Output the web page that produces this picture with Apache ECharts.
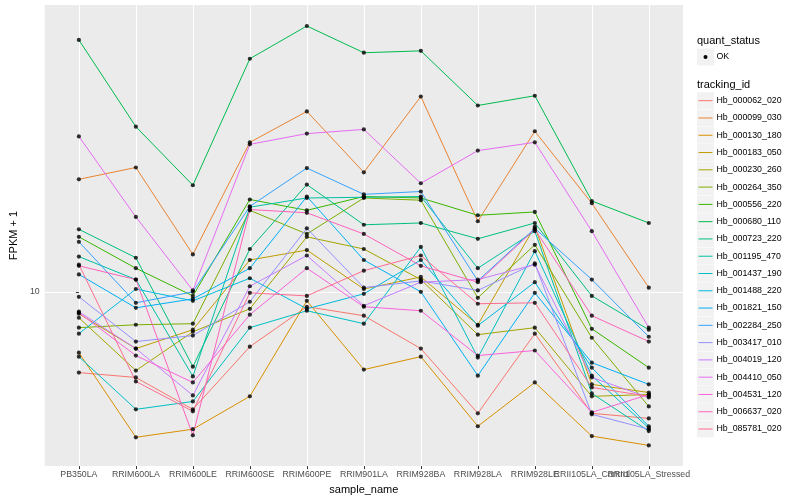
<!DOCTYPE html>
<html><head><meta charset="utf-8">
<script src="https://cdn.jsdelivr.net/npm/echarts@6/dist/echarts.min.js"></script>
<style>html,body{margin:0;padding:0;background:#fff}#c{width:800px;height:500px}</style>
</head><body><div id="c"></div>
<script>
const categories = ['PB350LA','RRIM600LA','RRIM600LE','RRIM600SE','RRIM600PE','RRIM901LA','RRIM928BA','RRIM928LA','RRIM928LE','RRII105LA_Control','RRII105LA_Stressed'];
const trackingIds = ['Hb_000062_020','Hb_000099_030','Hb_000130_180','Hb_000183_050','Hb_000230_260','Hb_000264_350','Hb_000556_220','Hb_000680_110','Hb_000723_220','Hb_001195_470','Hb_001437_190','Hb_001488_220','Hb_001821_150','Hb_002284_250','Hb_003417_010','Hb_004019_120','Hb_004410_050','Hb_004531_120','Hb_006637_020','Hb_085781_020'];
const colors = ['#F8766D','#EA8331','#D89000','#C09B00','#A3A500','#7CAE00','#39B600','#00BB4E','#00BF7D','#00C1A3','#00BFC4','#00BAE0','#00B0F6','#35A2FF','#9590FF','#C77CFF','#E76BF3','#FA62DB','#FF62BC','#FF6C91'];
const yTicks = [10];

const hb000062_020 = [5.68, 5.49, 4.39, 6.81, 9.01, 8.46, 6.72, 4.27, 7.46, 4.27, 4.12];
const hb000099_030 = [22.0, 23.9, 13.0, 28.5, 35.4, 23.1, 39.3, 16.4, 30.8, 18.6, 10.3];
const hb000130_180 = [6.53, 3.61, 3.82, 4.81, 9.39, 5.80, 6.35, 3.90, 5.30, 3.64, 3.41];
const hb000183_050 = [8.58, 6.72, 7.67, 12.5, 13.4, 10.2, 11.1, 7.94, 15.8, 5.23, 4.94];
const hb000230_260 = [8.34, 5.76, 7.56, 8.88, 14.7, 13.5, 10.9, 7.41, 7.78, 4.81, 4.87];
const hb000264_350 = [7.78, 7.94, 8.00, 17.7, 15.0, 19.3, 19.0, 9.59, 13.9, 7.25, 4.48];
const hb000556_220 = [14.7, 11.8, 9.72, 19.1, 17.7, 19.5, 19.3, 17.1, 17.5, 7.72, 5.88];
const hb000680_110 = [58.4, 31.8, 21.1, 51.2, 64.4, 53.4, 54.1, 36.9, 39.5, 18.9, 16.2];
const hb000723_220 = [15.5, 12.7, 5.92, 13.5, 21.2, 16.0, 16.2, 14.5, 16.2, 9.72, 7.67];
const hb001195_470 = [12.8, 10.9, 5.53, 18.1, 19.3, 19.4, 19.5, 11.8, 15.3, 4.91, 3.77];
const hb001437_190 = [6.35, 4.39, 4.64, 7.78, 8.76, 8.00, 13.7, 6.31, 13.3, 5.56, 3.85];
const hb001488_220 = [7.46, 10.2, 9.39, 11.0, 8.88, 9.86, 12.5, 7.89, 10.7, 5.88, 3.90];
const hb001821_150 = [11.3, 8.94, 9.52, 11.8, 19.5, 12.5, 10.0, 5.56, 9.93, 6.09, 5.23];
const hb002284_250 = [14.2, 9.26, 10.0, 18.2, 23.8, 19.8, 20.2, 10.8, 15.6, 10.9, 7.30];
const hb003417_010 = [9.66, 7.06, 7.36, 9.33, 15.6, 10.3, 10.8, 10.1, 12.2, 4.24, 3.82];
const hb004019_120 = [8.70, 6.72, 4.84, 10.4, 12.9, 9.07, 10.7, 10.9, 12.1, 5.49, 4.77];
const hb004410_050 = [29.7, 16.9, 10.1, 28.1, 30.3, 31.2, 21.4, 26.9, 28.5, 15.3, 7.78];
const hb004531_120 = [8.64, 6.40, 5.30, 8.52, 11.8, 9.01, 8.76, 6.40, 6.63, 4.30, 4.87];
const hb006637_020 = [12.0, 10.9, 3.66, 17.8, 17.4, 15.0, 12.0, 10.7, 15.5, 8.46, 7.06];
const hb085781_020 = [12.1, 5.34, 4.33, 9.93, 9.72, 11.6, 12.9, 9.20, 9.26, 5.12, 4.81];

const seriesValues = [hb000062_020, hb000099_030, hb000130_180, hb000183_050, hb000230_260, hb000264_350, hb000556_220, hb000680_110, hb000723_220, hb001195_470, hb001437_190, hb001488_220, hb001821_150, hb002284_250, hb003417_010, hb004019_120, hb004410_050, hb004531_120, hb006637_020, hb085781_020];

const FONT = '"Liberation Sans", Arial, Helvetica, sans-serif';
const catIdx = categories.map((c, i) => i);
const evenIdx = catIdx.filter(i => i % 2 === 0);
const oddIdx = catIdx.filter(i => i % 2 === 1);

const lineSeries = trackingIds.map((id, k) => ({
  name: id, type: 'line',
  data: seriesValues[k].map((v, i) => [i, v]),
  showSymbol: false, symbol: 'none',
  lineStyle: { color: colors[k], width: 1 },
  itemStyle: { color: colors[k] },
  z: 2, silent: true
}));
const pointData = [];
seriesValues.forEach(arr => arr.forEach((v, i) => pointData.push([i, v])));

const graphic = [];
const LX = 697;
graphic.push({ type: 'text', x: LX, y: 41, style: { text: 'quant_status', fontSize: 11, fontFamily: FONT, fill: '#000', verticalAlign: 'middle' } });
graphic.push({ type: 'rect', shape: { x: LX, y: 48.5, width: 17, height: 17 }, style: { fill: '#F2F2F2' } });
graphic.push({ type: 'circle', shape: { cx: LX + 8.5, cy: 57, r: 2 }, style: { fill: '#000' } });
graphic.push({ type: 'text', x: LX + 19.5, y: 57, style: { text: 'OK', fontSize: 8.8, fontFamily: FONT, fill: '#000', verticalAlign: 'middle' } });
graphic.push({ type: 'text', x: LX, y: 84.5, style: { text: 'tracking_id', fontSize: 11, fontFamily: FONT, fill: '#000', verticalAlign: 'middle' } });
trackingIds.forEach((id, k) => {
  const cy = 100.7 + k * 17.28;
  graphic.push({ type: 'rect', shape: { x: LX, y: cy - 8.4, width: 17, height: 16.8 }, style: { fill: '#F2F2F2' } });
  graphic.push({ type: 'line', shape: { x1: LX + 1.5, y1: cy, x2: LX + 15.5, y2: cy }, style: { stroke: colors[k], lineWidth: 1 } });
  graphic.push({ type: 'text', x: LX + 19.5, y: cy, style: { text: id, fontSize: 8.8, fontFamily: FONT, fill: '#000', verticalAlign: 'middle' } });
});

const xLabelStyle = { formatter: v => categories[Math.round(v)], fontSize: 8.8, color: '#4D4D4D', margin: 4, fontFamily: FONT, hideOverlap: false };

const option = {
  animation: false,
  backgroundColor: '#fff',
  textStyle: { fontFamily: FONT },
  grid: { left: 35, right: 117, top: 5, bottom: 32, show: true, backgroundColor: '#EBEBEB', borderWidth: 0 },
  xAxis: [{
    type: 'value', min: -0.6, max: 10.6, position: 'bottom',
    axisLine: { show: false },
    axisTick: { show: true, customValues: catIdx, length: 3, lineStyle: { color: '#333', width: 1 } },
    axisLabel: Object.assign({ customValues: evenIdx }, xLabelStyle),
    splitLine: { show: true, lineStyle: { color: '#fff', width: 1 } },
    name: 'sample_name', nameLocation: 'middle', nameGap: 13,
    nameTextStyle: { fontSize: 11, color: '#000', fontFamily: FONT, verticalAlign: 'top' }
  }, {
    type: 'value', min: -0.6, max: 10.6, position: 'bottom', offset: 0,
    axisLine: { show: false },
    axisTick: { show: false },
    axisLabel: Object.assign({ customValues: oddIdx }, xLabelStyle),
    splitLine: { show: false }
  }],
  yAxis: {
    type: 'log', logBase: 10, min: 2.95, max: 74.6,
    axisLine: { show: false },
    axisTick: { show: true, customValues: yTicks, length: 3, lineStyle: { color: '#333', width: 1 } },
    axisLabel: { customValues: yTicks, fontSize: 8.8, color: '#4D4D4D', margin: 5, fontFamily: FONT, showMinLabel: true, showMaxLabel: true },
    splitLine: { show: true, lineStyle: { color: '#fff', width: 1 } },
    minorSplitLine: { show: false },
    name: 'FPKM + 1', nameLocation: 'middle', nameGap: 17, nameRotate: 90,
    nameTextStyle: { fontSize: 11, color: '#000', fontFamily: FONT }
  },
  series: [...lineSeries, {
    name: 'OK', type: 'scatter', data: pointData, symbol: 'circle', symbolSize: 4.2,
    itemStyle: { color: '#000' }, z: 5, silent: true
  }],
  graphic: graphic
};
const chart = echarts.init(document.getElementById('c'));
chart.setOption(option);
</script></body></html>
